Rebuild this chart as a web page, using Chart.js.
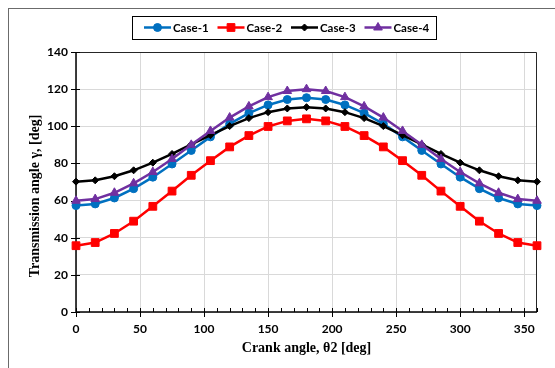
<!DOCTYPE html>
<html>
<head>
<meta charset="utf-8">
<script src="https://cdn.jsdelivr.net/npm/chart.js@4.4.0/dist/chart.umd.min.js"></script>
<style>
  html, body { margin: 0; padding: 0; background: #fff; }
</style>
</head>
<body>
<canvas id="chart" width="555" height="368"></canvas>
<script>
// crank angle theta2 [deg]
const crankAngle = [0, 15, 30, 45, 60, 75, 90, 105, 120, 135, 150, 165, 180,
  195, 210, 225, 240, 255, 270, 285, 300, 315, 330, 345, 360];

// transmission angle gamma [deg] per case
const case1 = [57.3, 58.2, 61.4, 66.4, 72.6, 79.7, 87.0, 94.3, 101.3, 107.1, 111.5, 114.4, 115.4,
  114.4, 111.5, 107.1, 101.3, 94.3, 87.0, 79.7, 72.6, 66.4, 61.4, 58.2, 57.3];
const case2 = [35.7, 37.4, 42.3, 48.9, 56.9, 65.1, 73.6, 81.5, 88.9, 95.0, 99.9, 102.9, 104.0,
  102.9, 99.9, 95.0, 88.9, 81.5, 73.6, 65.1, 56.9, 48.9, 42.3, 37.4, 35.7];
const case3 = [70.2, 70.9, 73.1, 76.3, 80.4, 85.1, 90.2, 95.2, 100.1, 104.4, 107.6, 109.6, 110.3,
  109.6, 107.6, 104.4, 100.1, 95.2, 90.2, 85.1, 80.4, 76.3, 73.1, 70.9, 70.2];
const case4 = [59.9, 60.8, 64.2, 69.3, 75.4, 82.4, 90.0, 97.5, 104.7, 110.7, 115.7, 119.0, 120.0,
  119.0, 115.7, 110.7, 104.7, 97.5, 90.0, 82.4, 75.4, 69.3, 64.2, 60.8, 59.9];

const seriesNames = ['Case-1', 'Case-2', 'Case-3', 'Case-4'];
const xTickValues = [0, 50, 100, 150, 200, 250, 300, 350];
const yTickValues = [0, 20, 40, 60, 80, 100, 120, 140];
const xTitle = 'Crank angle, θ2 [deg]';
const yTitle = 'Transmission angle γ, [deg]';

const tickFont = { family: 'Lato', weight: 'bold', size: 12 };

function toPoints(vals) {
  return crankAngle.map((a, i) => ({ x: a, y: vals[i] }));
}

function series(label, vals, color, style, radius, order) {
  return {
    label: label,
    data: toPoints(vals),
    showLine: true,
    borderColor: color,
    backgroundColor: color,
    borderWidth: 2.5,
    pointStyle: style,
    pointRadius: radius,
    pointBorderWidth: 1,
    pointBackgroundColor: color,
    pointBorderColor: color,
    tension: 0,
    clip: false,
    order: order
  };
}

// axes, ticks, borders, legend and titles drawn by hand like Excel does
const decor = {
  id: 'decor',
  beforeDatasetsDraw(chart) {
    const ctx = chart.ctx;
    const a = chart.chartArea;
    const xs = chart.scales.x, ys = chart.scales.y;
    ctx.save();
    // plot border
    ctx.strokeStyle = '#262626';
    ctx.lineWidth = 1;
    ctx.beginPath();
    ctx.moveTo(a.left, a.top + 0.5);
    ctx.lineTo(a.right - 0.5, a.top + 0.5);
    ctx.lineTo(a.right - 0.5, a.bottom);
    ctx.stroke();
    // axes
    ctx.strokeStyle = '#000';
    ctx.lineWidth = 1.5;
    ctx.beginPath();
    ctx.moveTo(a.left, a.top);
    ctx.lineTo(a.left, a.bottom);
    ctx.lineTo(a.right, a.bottom);
    ctx.stroke();
    ctx.lineWidth = 1;
    ctx.beginPath();
    yTickValues.forEach(v => {
      const y = Math.round(ys.getPixelForValue(v)) + 0.5;
      ctx.moveTo(a.left - 5, y);
      ctx.lineTo(a.left + 4, y);
    });
    for (let v = 0; v <= 360; v += 10) {
      const x = Math.round(xs.getPixelForValue(v)) + 0.5;
      if (v % 50 === 0) {
        ctx.moveTo(x, a.bottom - 4);
        ctx.lineTo(x, a.bottom + 5);
      } else {
        ctx.moveTo(x, a.bottom - 4);
        ctx.lineTo(x, a.bottom);
      }
    }
    ctx.stroke();
    ctx.restore();
  },
  afterDraw(chart) {
    const ctx = chart.ctx;
    const a = chart.chartArea;
    ctx.save();
    // outer frame
    ctx.strokeStyle = '#6b6b6b';
    ctx.lineWidth = 1;
    ctx.strokeRect(8.5, 8.5, 700, 500);

    // legend box
    ctx.fillStyle = '#fff';
    ctx.fillRect(132, 16, 304, 23);
    ctx.strokeStyle = '#000';
    ctx.strokeRect(132.5, 16.5, 304, 23);
    const ly = 27.5;
    ctx.font = 'bold 11.5px Lato';
    ctx.textBaseline = 'middle';
    ctx.textAlign = 'left';
    chart.data.datasets.forEach((ds, i) => {
      const x0 = 144 + i * 73.5;
      ctx.strokeStyle = ds.borderColor;
      ctx.fillStyle = ds.borderColor;
      ctx.lineWidth = 2.5;
      ctx.beginPath();
      ctx.moveTo(x0, ly);
      ctx.lineTo(x0 + 27, ly);
      ctx.stroke();
      ctx.lineWidth = 1;
      Chart.helpers.drawPoint(ctx, {
        pointStyle: ds.pointStyle, radius: ds.pointRadius, rotation: 0, borderWidth: 1
      }, x0 + 13.5, ly);
      ctx.fillStyle = '#000';
      ctx.fillText(ds.label, x0 + 29, ly + 0.5);
    });

    // axis titles
    ctx.fillStyle = '#000';
    ctx.font = 'bold 14px "Liberation Serif"';
    ctx.textAlign = 'center';
    ctx.textBaseline = 'middle';
    ctx.fillText(xTitle, (a.left + a.right) / 2, 348);
    ctx.translate(35, 196);
    ctx.rotate(-Math.PI / 2);
    ctx.fillText(yTitle, 0, 0);
    ctx.restore();
  }
};

new Chart(document.getElementById('chart'), {
  type: 'scatter',
  data: {
    datasets: [
      series(seriesNames[0], case1, '#0070C0', 'circle', 4, 4),
      series(seriesNames[1], case2, '#FF0000', 'rect', 5.5, 3),
      series(seriesNames[2], case3, '#000000', 'rectRot', 3.5, 2),
      series(seriesNames[3], case4, '#7030A0', 'triangle', 5, 1)
    ]
  },
  options: {
    responsive: false,
    devicePixelRatio: 1,
    animation: false,
    layout: { padding: { top: 52, right: 18, left: 0, bottom: 0 } },
    plugins: { legend: { display: false }, tooltip: { enabled: false } },
    scales: {
      x: {
        type: 'linear',
        min: 0,
        max: 360,
        afterBuildTicks: s => { s.ticks = xTickValues.map(v => ({ value: v })); },
        afterFit: s => { s.height = 56; },
        ticks: { font: tickFont, color: '#000', padding: 10, maxRotation: 0, autoSkip: false },
        grid: { color: '#d9d9d9', drawTicks: false, lineWidth: 1 },
        border: { display: false }
      },
      y: {
        min: 0,
        max: 140,
        afterBuildTicks: s => { s.ticks = yTickValues.map(v => ({ value: v })); },
        afterFit: s => { s.width = 76; },
        ticks: { font: tickFont, color: '#000', padding: 8 },
        grid: { color: '#d9d9d9', drawTicks: false, lineWidth: 1 },
        border: { display: false }
      }
    }
  },
  plugins: [decor]
});
</script>
</body>
</html>
